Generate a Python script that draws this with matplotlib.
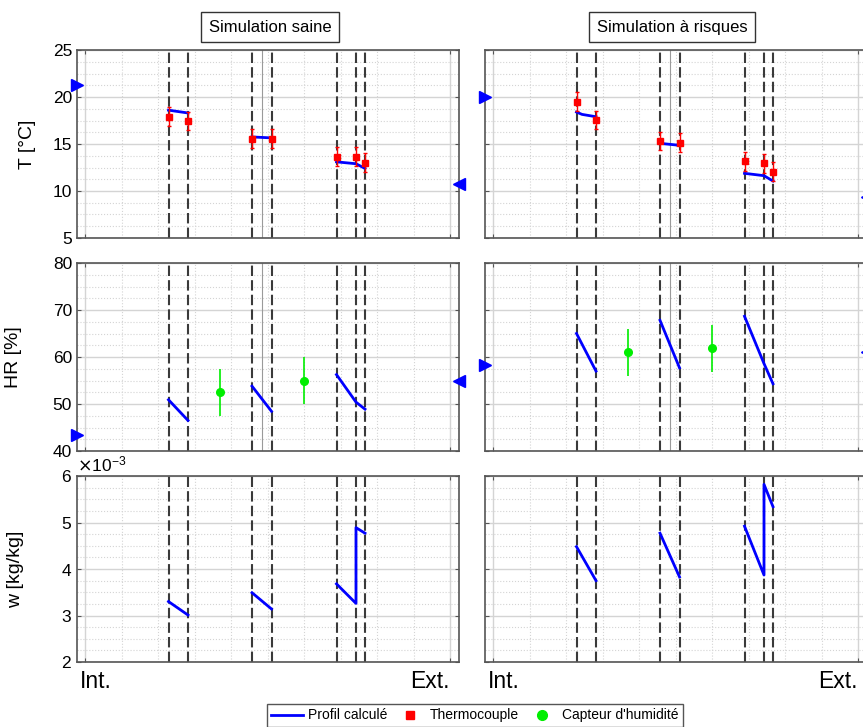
import numpy as np
import matplotlib.pyplot as plt
from matplotlib.ticker import MultipleLocator, ScalarFormatter
from matplotlib.lines import Line2D

plt.rcParams['font.family'] = ['Liberation Sans', 'DejaVu Sans']

# Positions across the wall (cm), Int. = 0, Ext. = 36.5
x_int = 0.0
x_ext = 36.5
x_min, x_max = -0.8, 37.4
x_interfaces = [8.35, 10.3, 16.7, 18.65, 25.15, 27.1, 28.0]
x_membrane = 17.7
x_hr_sensors = [13.5, 21.9]
x_tick_labels = ['Int.', 'Ext.']

# segments of the calculated profile
x_seg1 = [8.35, 10.3]
x_seg1_r = [8.35, 8.9, 10.3]
x_seg2 = [16.7, 18.65]
x_seg3 = [25.15, 27.1, 28.0]
x_seg3_w = [25.15, 27.1, 27.1, 28.0]

# ---- Simulation saine ----
T_bc_saine = [21.3, 10.7]
T_seg_saine = [[18.6, 18.3], [15.75, 15.65], [13.1, 12.9, 12.4]]
T_meas_saine = [17.9, 17.45, 15.55, 15.55, 13.65, 13.65, 13.0]
T_err_saine = [1.0] * 7

HR_bc_saine = [43.5, 55.0]
HR_seg_saine = [[50.9, 46.5], [53.8, 48.45], [56.25, 50.4, 48.9]]
HR_meas_saine = [52.55, 54.9]
HR_err_saine = [5.0, 5.0]

w_seg_saine = [[3.30e-3, 3.01e-3], [3.49e-3, 3.14e-3], [3.68e-3, 3.26e-3, 4.89e-3, 4.77e-3]]

# ---- Simulation à risques ----
T_bc_risque = [20.0, 9.4]
T_seg_risque = [[18.4, 18.15, 17.9], [15.07, 14.86], [11.88, 11.63, 11.06]]
T_meas_risque = [19.5, 17.55, 15.32, 15.14, 13.16, 12.94, 12.05]
T_err_risque = [1.0] * 7

HR_bc_risque = [58.4, 61.0]
HR_seg_risque = [[65.0, 57.0], [67.8, 57.7], [68.66, 58.6, 54.3]]
HR_meas_risque = [61.0, 61.9]
HR_err_risque = [5.0, 5.0]

w_seg_risque = [[4.48e-3, 3.75e-3], [4.77e-3, 3.83e-3], [4.92e-3, 3.87e-3, 5.82e-3, 5.34e-3]]

blue = '#0000ff'
red = '#ff0000'
green = '#00ee00'

fig = plt.figure(figsize=(8.63, 7.27), dpi=100)
W, H = 863.0, 727.0
lefts = [77 / W, 485 / W]
aw = 382 / W
rows = [(50, 238), (263, 451), (476, 662)]
axes = [[fig.add_axes([l, 1 - b / H, aw, (b - t) / H]) for (t, b) in rows] for l in lefts]


def style_axes(ax, ylim, ymajor, left_labels, bottom_labels):
    ax.set_xlim(x_min, x_max)
    ax.set_ylim(*ylim)
    ax.set_xticks([x_int, x_ext])
    ax.xaxis.set_minor_locator(MultipleLocator(3.65))
    ax.yaxis.set_major_locator(MultipleLocator(ymajor))
    ax.yaxis.set_minor_locator(MultipleLocator(ymajor / 4))
    ax.grid(True, which='major', color='#d4d4d4', lw=1.0)
    ax.grid(True, which='minor', color='#d4d4d4', lw=0.8, ls=':')
    ax.set_axisbelow(True)
    ax.tick_params(which='both', direction='in', top=True, right=True, labelsize=12.5,
                   labelleft=left_labels, labelbottom=False, color='#555555')
    ax.tick_params(which='major', length=3)
    ax.tick_params(which='minor', length=0)
    for s in ax.spines.values():
        s.set_color('#555555')
        s.set_linewidth(1.2)
    for xv in x_interfaces:
        ax.axvline(xv, color='#3a3a3a', ls=(0, (5, 2)), lw=1.5, zorder=2)
    if bottom_labels:
        # Int. / Ext. labels sit inside the tick positions, as in the original
        tr = ax.get_xaxis_transform()
        ax.text(x_int - 0.5, -0.045, x_tick_labels[0], transform=tr, ha='left', va='top', fontsize=16.5)
        ax.text(x_ext, -0.045, x_tick_labels[1], transform=tr, ha='right', va='top', fontsize=16.5)


sims = [
    (T_bc_saine, T_seg_saine, T_meas_saine, T_err_saine, HR_bc_saine, HR_seg_saine,
     HR_meas_saine, HR_err_saine, w_seg_saine, x_seg1),
    (T_bc_risque, T_seg_risque, T_meas_risque, T_err_risque, HR_bc_risque, HR_seg_risque,
     HR_meas_risque, HR_err_risque, w_seg_risque, x_seg1_r),
]

for col, (T_bc, T_seg, T_meas, T_err, HR_bc, HR_seg, HR_meas, HR_err, w_seg, xs1) in enumerate(sims):
    axT, axH, axW = axes[col]
    first = col == 0

    ############# Temperature #############
    style_axes(axT, (5, 25), 5, first, False)
    axT.axvline(x_membrane, color='#9a9a9a', lw=0.8, zorder=1)
    axT.plot(xs1, T_seg[0], color=blue, lw=2, zorder=4)
    axT.plot(x_seg2, T_seg[1], color=blue, lw=2, zorder=4)
    axT.plot(x_seg3, T_seg[2], color=blue, lw=2, zorder=4)
    axT.errorbar(x_interfaces, T_meas, yerr=T_err, fmt='s', color=red, ms=4.5,
                 elinewidth=1, capsize=1.5, zorder=5)
    axT.plot(x_min, T_bc[0], '>', color=blue, ms=8, clip_on=False, zorder=6)
    axT.plot(x_max, T_bc[1], '<', color=blue, ms=8, clip_on=False, zorder=6)

    ############# Relative humidity #############
    style_axes(axH, (40, 80), 10, first, False)
    axH.axvline(x_membrane, color='#9a9a9a', lw=0.8, zorder=1)
    axH.plot(x_seg1, HR_seg[0], color=blue, lw=2, zorder=4)
    axH.plot(x_seg2, HR_seg[1], color=blue, lw=2, zorder=4)
    axH.plot(x_seg3, HR_seg[2], color=blue, lw=2, zorder=4)
    axH.errorbar(x_hr_sensors, HR_meas, yerr=HR_err, fmt='o', color=green, ms=5.5,
                 elinewidth=1.2, capsize=0, zorder=5)
    axH.plot(x_min, HR_bc[0], '>', color=blue, ms=8, clip_on=False, zorder=6)
    axH.plot(x_max, HR_bc[1], '<', color=blue, ms=8, clip_on=False, zorder=6)

    ############# Water content #############
    style_axes(axW, (2e-3, 6e-3), 1e-3, first, True)
    axW.plot(x_seg1, w_seg[0], color=blue, lw=2, zorder=4)
    axW.plot(x_seg2, w_seg[1], color=blue, lw=2, zorder=4)
    axW.plot(x_seg3_w, w_seg[2], color=blue, lw=2, zorder=4)
    fmt = ScalarFormatter(useMathText=True)
    fmt.set_powerlimits((0, 0))
    axW.yaxis.set_major_formatter(fmt)
    axW.yaxis.get_offset_text().set_fontsize(12.5)
    if not first:
        axW.yaxis.get_offset_text().set_visible(False)

axes[0][0].set_ylabel('T [°C]', fontsize=14)
axes[0][0].yaxis.set_label_coords(-0.107, 0.5)
axes[0][1].set_ylabel('HR [%]', fontsize=14)
axes[0][1].yaxis.set_label_coords(-0.144, 0.5)
axes[0][2].set_ylabel('w [kg/kg]', fontsize=14)
axes[0][2].yaxis.set_label_coords(-0.139, 0.5)

box = dict(boxstyle='square,pad=0.45', facecolor='white', edgecolor='#333333', lw=1)
axes[0][0].text(0.505, 1.122, 'Simulation saine', transform=axes[0][0].transAxes,
                ha='center', va='center', fontsize=12, bbox=box)
axes[1][0].text(0.49, 1.122, 'Simulation à risques', transform=axes[1][0].transAxes,
                ha='center', va='center', fontsize=12, bbox=box)

handles = [
    Line2D([], [], color=blue, lw=2),
    Line2D([], [], ls='none', marker='s', color=red, ms=6),
    Line2D([], [], ls='none', marker='o', color=green, ms=7),
]
fig.legend(handles, ['Profil calculé', 'Thermocouple', "Capteur d'humidité"],
           loc='lower center', bbox_to_anchor=(475 / W, -0.01), ncol=3, fontsize=10,
           frameon=True, fancybox=False, edgecolor='#555555', framealpha=1,
           borderpad=0.35, handlelength=2.3, handletextpad=0.3, columnspacing=0.5)

plt.savefig('out.png', dpi=100)
